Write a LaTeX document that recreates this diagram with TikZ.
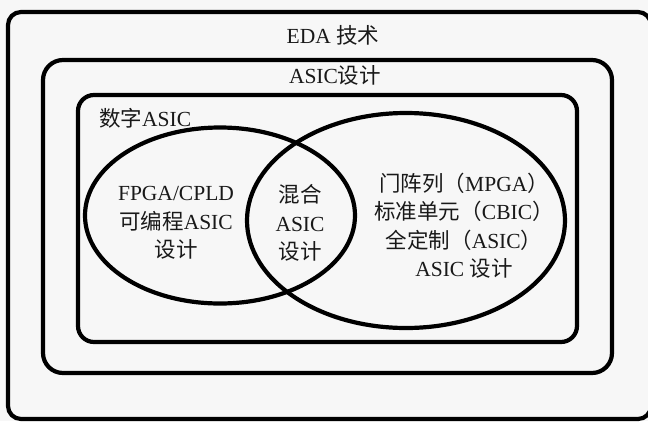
\documentclass[tikz,border=0pt]{standalone}
\usepackage{fontspec}
\setmainfont{Liberation Serif}
\newfontfamily\cjk{Noto Sans CJK SC}
\begin{document}
\begin{tikzpicture}[x=1pt,y=-1pt,
  frame/.style={line width=4.2pt,draw=black},
  lbl/.style={inner sep=0pt,font=\fontsize{21.5}{28.5}\selectfont,text=black!90},
  mlbl/.style={lbl,align=center}]
\useasboundingbox (0,0) rectangle (648,421);
\fill[black!3] (0,0) rectangle (648,421);
\begin{scope}
\clip (0,0) rectangle (648,421);
\draw[frame,rounded corners=13pt] (8,12) rectangle (651,419);
\end{scope}
\draw[frame,rounded corners=20pt] (43,60) rectangle (612,373);
\draw[frame,rounded corners=16pt] (78,95) rectangle (577,342);
\draw[frame] (220,215.5) ellipse [x radius=135, y radius=88];
\draw[frame] (406,220.5) ellipse [x radius=159, y radius=107.5];
\node[lbl] (eda) at (333,35) {EDA {\cjk 技术}};
\node[lbl] (asic) at (335,75) {ASIC{\cjk 设计}};
\node[lbl,anchor=west] (dig) at (99,118) {{\cjk 数字}ASIC};
\node[mlbl] (fpga) at (176,223) {FPGA/CPLD\\{\cjk 可编程}ASIC\\{\cjk 设计}};
\node[mlbl] (mix) at (300,223) {{\cjk 混合}\\ASIC\\{\cjk 设计}};
\node[mlbl] (std) at (464,225.5) {{\cjk 门阵列（}MPGA{\cjk ）}\\{\cjk 标准单元（}CBIC{\cjk ）}\\{\cjk 全定制（}ASIC{\cjk ）}\\ASIC {\cjk 设计}};
\end{tikzpicture}
\end{document}
